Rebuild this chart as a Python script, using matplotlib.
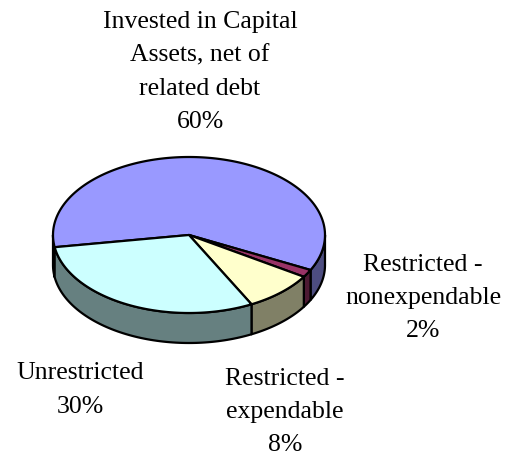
import numpy as np
import matplotlib
matplotlib.use("Agg")
from matplotlib import pyplot as plt
from matplotlib.patches import Polygon

# data
names = ["Invested in Capital\nAssets, net of\nrelated debt",
         "Restricted -\nnonexpendable",
         "Restricted -\nexpendable",
         "Unrestricted"]
shares = [59.9, 1.6, 8.4, 30.1]
top_colors = ["#9999FF", "#993366", "#FFFFCC", "#CCFFFF"]
side_colors = ["#4D4D80", "#4D1A33", "#808066", "#668080"]

# label block centres (pixels)
label_pos = [(200, 72), (423, 298), (285, 412), (80, 390)]

# pie geometry in pixels
cx, cy = 189, 236
a, b = 136, 78
depth = 30
start = 189.0 + 360.0   # slices go clockwise from here

fig = plt.figure(figsize=(5.08, 4.56), dpi=100)
ax = fig.add_axes([0, 0, 1, 1])
ax.set_xlim(0, 508)
ax.set_ylim(456, 0)
ax.axis("off")

def pt(t, dz=0):
    r = np.radians(t)
    return cx + a * np.cos(r), cy - b * np.sin(r) + dz

total = sum(shares)
angles = []
cur = start
for s in shares:
    nxt = cur - s / total * 360.0
    angles.append((nxt, cur))
    cur = nxt

# side walls (front half only: 180..360 deg)
for (t1, t2), col in zip(angles, side_colors):
    for k in range(-1, 3):
        lo = max(t1, 180 + 360 * k)
        hi = min(t2, 360 + 360 * k)
        if hi <= lo:
            continue
        ts = np.linspace(lo, hi, 80)
        top = [pt(t) for t in ts]
        bot = [pt(t, depth) for t in ts[::-1]]
        ax.add_patch(Polygon(top + bot, closed=True, facecolor=col,
                             edgecolor="black", linewidth=1.6, joinstyle="round"))

# top faces
for (t1, t2), col in zip(angles, top_colors):
    ts = np.linspace(t1, t2, 200)
    verts = [(cx, cy)] + [pt(t) for t in ts]
    ax.add_patch(Polygon(verts, closed=True, facecolor=col,
                         edgecolor="black", linewidth=1.6, joinstyle="round"))

for name, s, (x, y) in zip(names, shares, label_pos):
    ax.text(x, y, "%s\n%d%%" % (name, round(s / total * 100)),
            ha="center", va="center", fontsize=18.5,
            family="Liberation Serif", linespacing=1.66, color="black")

plt.savefig("out.png", dpi=100)
